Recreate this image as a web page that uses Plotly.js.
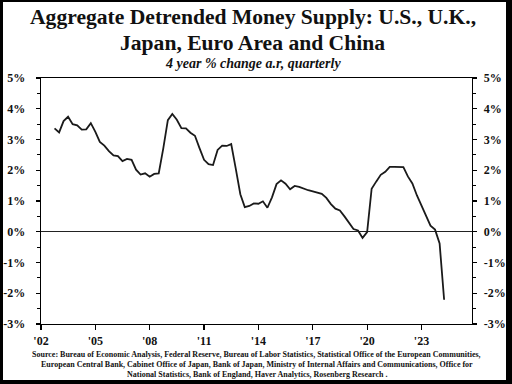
<!DOCTYPE html>
<html><head><meta charset="utf-8">
<script src="https://cdn.plot.ly/plotly-3.0.1.min.js"></script>
<style>
html,body{margin:0;padding:0;background:#fff;}
#wrap{position:relative;width:512px;height:384px;overflow:hidden;}
#chart{position:absolute;left:0;top:0;width:512px;height:384px;}
#frame{position:absolute;left:0;top:0;width:512px;height:384px;box-sizing:border-box;border-style:solid;border-color:#000;border-width:2px 6px 4px 3px;pointer-events:none;}
</style></head>
<body><div id="wrap"><div id="chart"></div><div id="frame"></div></div>
<script>
const quarters = ["2002-10-01",
"2003-01-01","2003-04-01","2003-07-01","2003-10-01",
"2004-01-01","2004-04-01","2004-07-01","2004-10-01",
"2005-01-01","2005-04-01","2005-07-01","2005-10-01",
"2006-01-01","2006-04-01","2006-07-01","2006-10-01",
"2007-01-01","2007-04-01","2007-07-01","2007-10-01",
"2008-01-01","2008-04-01","2008-07-01","2008-10-01",
"2009-01-01","2009-04-01","2009-07-01","2009-10-01",
"2010-01-01","2010-04-01","2010-07-01","2010-10-01",
"2011-01-01","2011-04-01","2011-07-01","2011-10-01",
"2012-01-01","2012-04-01","2012-07-01","2012-10-01",
"2013-01-01","2013-04-01","2013-07-01","2013-10-01",
"2014-01-01","2014-04-01","2014-07-01","2014-10-01",
"2015-01-01","2015-04-01","2015-07-01","2015-10-01",
"2016-01-01","2016-04-01","2016-07-01","2016-10-01",
"2017-01-01","2017-04-01","2017-07-01","2017-10-01",
"2018-01-01","2018-04-01","2018-07-01","2018-10-01",
"2019-01-01","2019-04-01","2019-07-01","2019-10-01",
"2020-01-01","2020-04-01","2020-07-01","2020-10-01",
"2021-01-01","2021-04-01","2021-07-01","2021-10-01",
"2022-01-01","2022-04-01","2022-07-01","2022-10-01",
"2023-01-01","2023-04-01","2023-07-01","2023-10-01",
"2024-01-01","2024-04-01"];
const moneySupply = [3.36,3.23,3.60,3.74,3.50,3.46,3.32,3.33,3.53,3.25,
2.92,2.80,2.62,2.48,2.46,2.30,2.37,2.34,2.02,1.86,
1.90,1.79,1.88,1.90,2.71,3.63,3.83,3.64,3.37,3.36,
3.22,3.12,2.72,2.34,2.20,2.17,2.66,2.80,2.79,2.85,
2.05,1.22,0.80,0.84,0.92,0.91,0.99,0.78,1.12,1.55,
1.67,1.56,1.38,1.49,1.46,1.40,1.35,1.31,1.28,1.23,
1.10,0.90,0.75,0.69,0.50,0.30,0.09,0.04,-0.20,-0.01,
1.40,1.63,1.85,1.95,2.11,2.11,2.11,2.10,1.80,1.57,
1.18,0.85,0.52,0.20,0.07,-0.38,-2.21];
const xTickVals = ["2002-01-01","2005-01-01","2008-01-01","2011-01-01","2014-01-01","2017-01-01","2020-01-01","2023-01-01"];
const xTickText = ["'02","'05","'08","'11","'14","'17","'20","'23"];
const yTickVals = [-3,-2,-1,0,1,2,3,4,5];
const yTickText = ["-3%","-2%","-1%","0%","1%","2%","3%","4%","5%"];
const titleLines = ["Aggregate Detrended Money Supply: U.S., U.K.,", "Japan, Euro Area and China"];
const subtitleText = "4 year % change a.r, quarterly";
const sourceLines = [
"Source: Bureau of Economic Analysis, Federal Reserve, Bureau of Labor Statistics, Statistical Office of the European Communities,",
"European Central Bank, Cabinet Office of Japan, Bank of Japan, Ministry of Internal Affairs and Communications, Office for",
"National Statistics, Bank of England, Haver Analytics, Rosenberg Research ."];

const serif = "Liberation Serif, Times New Roman, serif";
const bold = function(a) { return a.map(function(s) { return "<b>" + s + "</b>"; }); };
const tickFont = {family: serif, size: 12, color: "#111"};
const yCommon = {
  range: [-3, 5], tickvals: yTickVals, ticktext: bold(yTickText),
  ticks: "outside", ticklen: 4, tickwidth: 1.2, tickcolor: "#000",
  showline: true, linecolor: "#000", linewidth: 1.3,
  showgrid: false, tickfont: tickFont, fixedrange: true,
  minor: {dtick: 0.5, ticks: "outside", ticklen: 3, tickwidth: 1.2, tickcolor: "#000", showgrid: false}
};
const data = [{
  x: quarters, y: moneySupply, type: "scatter", mode: "lines",
  line: {color: "#1a1a1a", width: 1.8}, hoverinfo: "skip", showlegend: false
}, {
  x: quarters, y: moneySupply, type: "scatter", mode: "lines", yaxis: "y2",
  line: {color: "rgba(0,0,0,0)", width: 0}, hoverinfo: "skip", showlegend: false
}];
const annotations = [];
const titleY = [17, 43];
titleLines.forEach(function(t, i) {
  annotations.push({text: "<b>" + t + "</b>", xref: "paper", yref: "paper",
    x: 0.5, y: 1, yshift: 78 - titleY[i], showarrow: false, yanchor: "middle",
    xshift: -4, font: {family: serif, size: 21.6, color: "#111"}});
});
annotations.push({
  text: "<b><i>" + subtitleText + "</i></b>", xref: "paper", yref: "paper",
  x: 0.5, y: 1, yshift: 15, showarrow: false, yanchor: "middle", xshift: -4,
  font: {family: serif, size: 14, color: "#111"}
});
const srcY = [354, 364, 374];
sourceLines.forEach(function(t, i) {
  annotations.push({text: "<b>" + t + "</b>", xref: "paper", yref: "paper",
    x: 0.5, y: 0, yshift: -(srcY[i] - 324), showarrow: false, yanchor: "middle",
    font: {family: serif, size: 8, color: "#111"}});
});
const layout = {
  width: 512, height: 384,
  margin: {l: 41, r: 40, t: 78, b: 60, pad: 0},
  paper_bgcolor: "#fff", plot_bgcolor: "#fff",
  xaxis: {type: "date", range: ["2002-01-01", "2025-10-15"], tickvals: xTickVals, ticktext: bold(xTickText),
    ticks: "outside", ticklen: 5, tickwidth: 1.2, tickcolor: "#000",
    showline: true, mirror: true, linecolor: "#000", linewidth: 1.3,
    showgrid: false, zeroline: false, tickfont: tickFont, fixedrange: true},
  yaxis: Object.assign({}, yCommon, {side: "left", zeroline: true, zerolinecolor: "#222", zerolinewidth: 1.2, ticklabelstandoff: 8}),
  yaxis2: Object.assign({}, yCommon, {side: "right", overlaying: "y", zeroline: false, ticklabelstandoff: 4}),
  annotations: annotations,
  showlegend: false
};
Plotly.newPlot("chart", data, layout, {staticPlot: true, displayModeBar: false});
</script></body></html>
